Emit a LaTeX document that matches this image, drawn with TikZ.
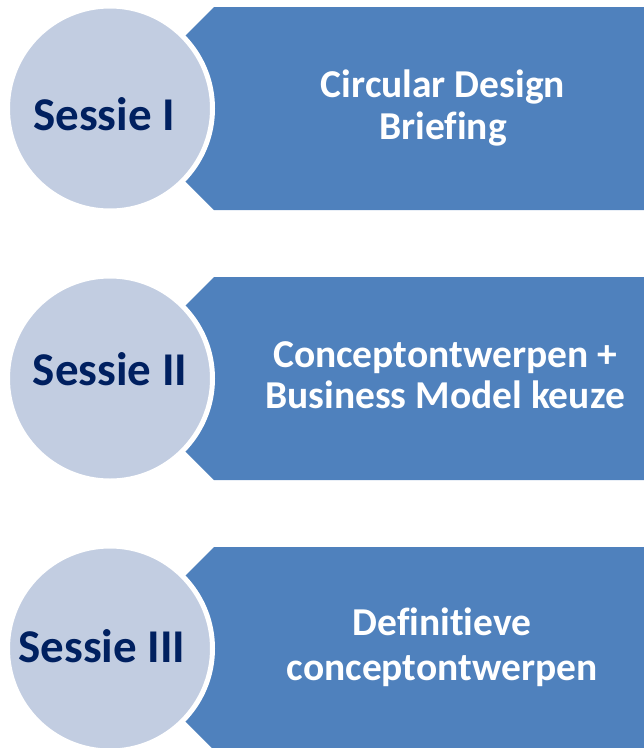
\documentclass[tikz,border=0pt]{standalone}
\usepackage{fontspec}
\setmainfont{Carlito}[Ligatures=NoCommon]
\definecolor{barblue}{HTML}{4F81BD}
\definecolor{circfill}{HTML}{C2CDE1}
\definecolor{navy}{HTML}{002060}
\begin{document}
\begin{tikzpicture}[x=1pt,y=-1pt,
  bar/.style={fill=barblue},
  sess/.style={circle, fill=circfill, draw=white, line width=5pt, minimum size=205pt, inner sep=0pt},
  sesstext/.style={anchor=base, text=navy, font=\fontsize{47}{56}\selectfont\bfseries, inner sep=0pt},
  bartext/.style={anchor=base, text=white, font=\fontsize{39.5}{44}\selectfont\bfseries, inner sep=0pt}]
\useasboundingbox (0,0) rectangle (644,748);
% bars
\foreach \t/\b in {7/210, 277/480, 547/750} {
  \fill[bar] (214,\t) -- (644,\t) -- (644,\b) -- (214,\b) -- ({214-(\b-\t)/2},{(\t+\b)/2}) -- cycle;
}
% circles
\node[sess] (c1) at (110,108.5) {};
\node[sess] (c2) at (110,378.5) {};
\node[sess] (c3) at (110,648.5) {};
% circle labels
\node[sesstext] (s1) at (104,130) {Sessie I};
\node[sesstext] (s2) at (110,385) {Sessie II};
\node[sesstext] (s3) at (102,662) {Sessie III};
% bar labels
\node[bartext] (t1a) at (443,97) {Circular Design};
\node[bartext] (t1b) at (443,139) {Briefing};
\node[bartext] (t2a) at (445,367) {Conceptontwerpen +};
\node[bartext] (t2b) at (445,408) {Business Model keuze};
\node[bartext] (t3a) at (442,635) {Definitieve};
\node[bartext] (t3b) at (442,680) {conceptontwerpen};
\end{tikzpicture}
\end{document}
